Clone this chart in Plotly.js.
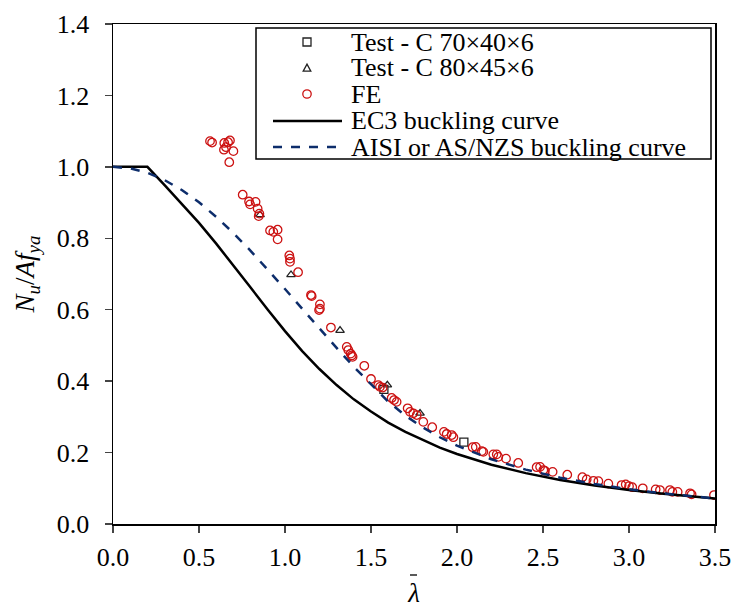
<!DOCTYPE html>
<html>
<head>
<meta charset="utf-8">
<script src="https://cdn.plot.ly/plotly-3.0.1.min.js"></script>
<style>html,body{margin:0;padding:0;background:#fff;}#chart{width:737px;height:608px;}</style>
</head>
<body>
<div id="chart"></div>
<script>
// Test - C 70x40x6
const testAX = [1.575, 2.04];
const testAY = [0.377, 0.229];
// Test - C 80x45x6
const testBX = [0.855, 1.035, 1.32, 1.595, 1.785];
const testBY = [0.866, 0.698, 0.542, 0.389, 0.31];
// FE results
const feX = [0.564,0.576,0.647,0.680,0.669,0.645,0.657,0.700,0.676,0.754,0.791,0.797,0.829,0.841,0.851,0.847,
  0.913,0.932,0.957,0.957,1.025,1.029,1.029,1.076,1.151,1.155,1.203,1.203,1.198,1.267,1.359,1.368,1.382,1.393,1.388,
  1.461,1.500,1.542,1.552,1.568,1.620,1.634,1.649,1.713,1.727,1.746,1.766,1.804,1.856,1.924,1.940,1.969,1.979,
  2.091,2.109,2.144,2.153,2.211,2.231,2.240,2.285,2.356,2.463,2.483,2.502,2.511,2.556,2.641,2.729,2.754,2.793,
  2.822,2.880,2.957,2.981,3.000,3.019,3.080,3.155,3.180,3.238,3.252,3.283,3.355,3.364,3.494];
const feY = [1.072,1.068,1.067,1.074,1.069,1.048,1.055,1.044,1.013,0.922,0.903,0.895,0.902,0.883,0.869,0.862,
  0.822,0.818,0.824,0.797,0.752,0.743,0.734,0.705,0.641,0.638,0.615,0.603,0.599,0.550,0.496,0.487,0.477,0.468,0.472,
  0.443,0.406,0.389,0.384,0.382,0.353,0.347,0.342,0.324,0.314,0.310,0.305,0.286,0.271,0.258,0.252,0.249,0.243,
  0.215,0.216,0.204,0.202,0.195,0.195,0.188,0.183,0.171,0.159,0.160,0.151,0.149,0.146,0.138,0.131,0.125,0.121,
  0.120,0.113,0.109,0.111,0.106,0.103,0.100,0.097,0.095,0.095,0.090,0.090,0.086,0.083,0.081];
// EC3 buckling curve
const ec3X = [0,0.2,0.3,0.4,0.5,0.6,0.7,0.8,0.9,1.0,1.1,1.2,1.3,1.4,1.5,1.6,1.7,1.8,1.9,2.0,2.2,2.4,2.6,2.8,3.0,3.2,3.5];
const ec3Y = [1.0,1.0,0.949,0.897,0.843,0.785,0.725,0.662,0.600,0.540,0.484,0.434,0.389,0.349,0.315,0.284,0.258,0.235,0.214,0.196,0.166,0.1425,0.1234,0.1079,0.0951,0.0844,0.0715];
// AISI or AS/NZS buckling curve
const aisiX = [0,0.1,0.2,0.3,0.4,0.5,0.6,0.7,0.8,0.9,1.0,1.1,1.2,1.3,1.4,1.5,1.6,1.7,1.8,1.9,2.0,2.2,2.4,2.6,2.8,3.0,3.2,3.5];
const aisiY = [1.0,0.9958,0.9834,0.963,0.9352,0.9007,0.8601,0.8146,0.765,0.7125,0.658,0.6027,0.5473,0.493,0.4403,0.39,0.3426,0.3035,0.2707,0.2429,0.2193,0.1812,0.1523,0.1297,0.1119,0.0974,0.0856,0.0716];
// legend labels
const legendNames = ['Test - C 70×40×6', 'Test - C 80×45×6', 'FE', 'EC3 buckling curve', 'AISI or AS/NZS buckling curve'];

const FONT = 'Liberation Serif';
const W = 737, H = 608, ML = 113, MR = 22, MT = 24, MB = 84;
const PW = W - ML - MR, PH = H - MT - MB;
const px = v => (v - ML) / PW;          // pixel -> paper x
const py = v => (H - MB - v) / PH;      // pixel -> paper y

const BLACK = '#222', RED = '#cc1111', NAVY = '#0d2d6b';
const traces = [
  {x: testAX, y: testAY, type: 'scatter', mode: 'markers', name: legendNames[0],
   marker: {symbol: 'square-open', size: 8, color: BLACK, line: {width: 1.3}}},
  {x: testBX, y: testBY, type: 'scatter', mode: 'markers', name: legendNames[1],
   marker: {symbol: 'triangle-up-open', size: 7.5, color: BLACK, line: {width: 1.3}}},
  {x: feX, y: feY, type: 'scatter', mode: 'markers', name: legendNames[2],
   marker: {symbol: 'circle-open', size: 8.5, color: RED, line: {width: 1.3}}},
  {x: ec3X, y: ec3Y, type: 'scatter', mode: 'lines', name: legendNames[3],
   line: {color: '#000', width: 2.5}},
  {x: aisiX, y: aisiY, type: 'scatter', mode: 'lines', name: legendNames[4],
   line: {color: NAVY, width: 2.5, dash: 'dash'}}
];

// hand-built legend (box, samples, labels)
const rowsY = [42, 68, 94, 121, 147];
const symX = 307;
const shapes = [
  {type: 'rect', xref: 'paper', yref: 'paper', x0: px(256), x1: px(711), y0: py(28), y1: py(159),
   line: {color: '#000', width: 1.5}, fillcolor: '#fff', layer: 'above'},
  {type: 'rect', xref: 'paper', yref: 'paper', x0: px(symX - 4), x1: px(symX + 4), y0: py(rowsY[0] - 4), y1: py(rowsY[0] + 4),
   line: {color: BLACK, width: 1.3}, layer: 'above'},
  {type: 'path', xref: 'paper', yref: 'paper', layer: 'above', line: {color: BLACK, width: 1.3},
   path: `M${px(symX - 3.8)},${py(rowsY[1] + 3.2)} L${px(symX + 3.8)},${py(rowsY[1] + 3.2)} L${px(symX)},${py(rowsY[1] - 3.8)} Z`},
  {type: 'circle', xref: 'paper', yref: 'paper', x0: px(symX - 4.2), x1: px(symX + 4.2), y0: py(rowsY[2] - 4.2), y1: py(rowsY[2] + 4.2),
   line: {color: RED, width: 1.3}, layer: 'above'},
  {type: 'line', xref: 'paper', yref: 'paper', x0: px(273), x1: px(342), y0: py(rowsY[3]), y1: py(rowsY[3]),
   line: {color: '#000', width: 2.5}, layer: 'above'},
  {type: 'line', xref: 'paper', yref: 'paper', x0: px(273), x1: px(342), y0: py(rowsY[4]), y1: py(rowsY[4]),
   line: {color: NAVY, width: 2.5, dash: 'dash'}, layer: 'above'},
  // macron over the lambda of the x-axis title
  {type: 'line', xref: 'paper', yref: 'paper', x0: px(410), x1: px(417), y0: py(575), y1: py(575),
   line: {color: '#000', width: 1.3}}
];
const annotations = legendNames.map((t, i) => ({
  text: t, xref: 'paper', yref: 'paper', x: px(349), y: py(rowsY[i]), xanchor: 'left', yanchor: 'middle',
  showarrow: false, font: {family: FONT, size: 26, color: '#000'}
}));

const layout = {
  width: W, height: H,
  margin: {l: ML, r: MR, t: MT, b: MB},
  paper_bgcolor: '#fff', plot_bgcolor: '#fff',
  font: {family: FONT, color: '#000', size: 26},
  showlegend: false,
  shapes: shapes,
  annotations: annotations,
  xaxis: {range: [0, 3.5], dtick: 0.5, tickformat: '.1f', ticks: 'outside', ticklen: 7, tickwidth: 1.5,
    showline: true, linecolor: '#000', linewidth: 1.5, mirror: true, showgrid: false, zeroline: false,
    tickfont: {family: FONT, size: 26, color: '#000'}, ticklabelstandoff: 2,
    title: {text: '<i>λ</i>', font: {family: FONT, size: 27, color: '#000'}, standoff: 12}},
  yaxis: {range: [0, 1.4], dtick: 0.2, tickformat: '.1f', ticks: 'outside', ticklen: 7, tickwidth: 1.5,
    showline: true, linecolor: '#000', linewidth: 1.5, mirror: true, showgrid: false, zeroline: false,
    tickfont: {family: FONT, size: 26, color: '#000'}, ticklabelstandoff: 10,
    title: {text: '<i>N<sub>u</sub></i>/<i>Af<sub>ya</sub></i>', font: {family: FONT, size: 27, color: '#000'}, standoff: 14}}
};
Plotly.newPlot('chart', traces, layout, {displayModeBar: false, staticPlot: true});
</script>
</body>
</html>
